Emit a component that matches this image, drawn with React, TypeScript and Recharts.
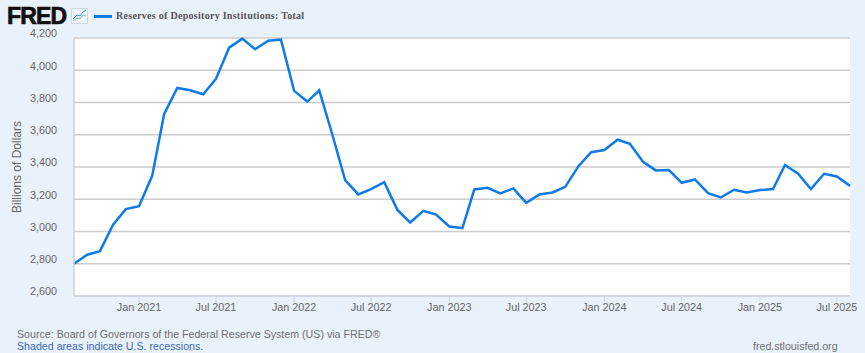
import React from 'react';
import { LineChart, Line, CartesianGrid, XAxis, YAxis, Label } from 'recharts';

const months = [
  '2020-08', '2020-09', '2020-10', '2020-11', '2020-12',
  '2021-01', '2021-02', '2021-03', '2021-04', '2021-05', '2021-06', '2021-07', '2021-08', '2021-09', '2021-10', '2021-11', '2021-12',
  '2022-01', '2022-02', '2022-03', '2022-04', '2022-05', '2022-06', '2022-07', '2022-08', '2022-09', '2022-10', '2022-11', '2022-12',
  '2023-01', '2023-02', '2023-03', '2023-04', '2023-05', '2023-06', '2023-07', '2023-08', '2023-09', '2023-10', '2023-11', '2023-12',
  '2024-01', '2024-02', '2024-03', '2024-04', '2024-05', '2024-06', '2024-07', '2024-08', '2024-09', '2024-10', '2024-11', '2024-12',
  '2025-01', '2025-02', '2025-03', '2025-04', '2025-05', '2025-06', '2025-07', '2025-08',
];

const reserves = [
  2800, 2856, 2878, 3042, 3139,
  3157, 3345, 3727, 3890, 3876, 3851, 3946, 4140, 4196, 4130, 4183, 4190,
  3872, 3806, 3876, 3600, 3319, 3230, 3263, 3306, 3134, 3056, 3128, 3105,
  3031, 3021, 3261, 3271, 3236, 3267, 3178, 3230, 3242, 3277, 3405, 3492,
  3505, 3569, 3544, 3432, 3379, 3381, 3302, 3323, 3238, 3211, 3259, 3242,
  3257, 3263, 3412, 3358, 3263, 3358, 3341, 3283,
];

const yTicks = [2600, 2800, 3000, 3200, 3400, 3600, 3800, 4000, 4200];
const xTickMonths = ['2021-01', '2021-07', '2022-01', '2022-07', '2023-01', '2023-07', '2024-01', '2024-07', '2025-01', '2025-07'];
const xTickLabels = ['Jan 2021', 'Jul 2021', 'Jan 2022', 'Jul 2022', 'Jan 2023', 'Jul 2023', 'Jan 2024', 'Jul 2024', 'Jan 2025', 'Jul 2025'];

const toTime = (m: string) => Date.parse(m + '-01T00:00:00Z');

const data = months.map((m, i) => ({ time: toTime(m), reserves: reserves[i] }));
const xTicks = xTickMonths.map(toTime);

const labelFor = (t: number) => xTickLabels[xTicks.indexOf(t)];

const sans = '"Liberation Sans", Arial, sans-serif';
const tickStyle = { fontFamily: sans, fontSize: 10.8, fill: '#666666' };

const App = () => {
  return (
    <div style={{ position: 'absolute', left: 0, top: 0, width: 865, height: 353, background: '#e9f1fa', overflow: 'hidden' }}>
      <LineChart width={865} height={353} data={data} margin={{ top: 38, right: 15, bottom: 27, left: 14 }}>
        <CartesianGrid vertical={false} stroke="#cccccc" strokeWidth={1.4} fill="#ffffff" />
        <XAxis
          dataKey="time"
          type="number"
          scale="time"
          domain={[data[0].time, data[data.length - 1].time]}
          ticks={xTicks}
          tickFormatter={labelFor}
          interval={0}
          height={30}
          stroke="#ccd6eb"
          tickSize={6}
          tick={tickStyle}
          tickMargin={1}
        />
        <YAxis
          type="number"
          domain={[2600, 4200]}
          ticks={yTicks}
          interval={0}
          width={60}
          stroke="#cccccc"
          strokeWidth={1.3}
          tickLine={false}
          tickMargin={11}
          tickFormatter={(v: number) => v.toLocaleString('en-US')}
          tick={{ ...tickStyle, dy: -4.5 }}
        >
          <Label value="Billions of Dollars" angle={-90} position="insideLeft" offset={3} style={{ fontFamily: sans, fontSize: 12, fill: '#666666', textAnchor: 'middle' }} />
        </YAxis>
        <Line type="linear" dataKey="reserves" stroke="#0f7be8" strokeWidth={2.5} dot={false} isAnimationActive={false} />
      </LineChart>

      <div style={{ position: 'absolute', left: 7, top: 3, fontFamily: sans, fontWeight: 700, fontSize: 23, lineHeight: '26px', color: '#111111', letterSpacing: -0.8, WebkitTextStroke: '0.7px #111111' }}>FRED</div>
      <svg style={{ position: 'absolute', left: 71, top: 8 }} width={17} height={16}>
        <rect x={0.5} y={0.5} width={16} height={15} fill="#eef3f8" stroke="#cfd8e0" />
        <polyline points="2,13 6,10 9,11 12,7 15,8" fill="none" stroke="#7fc4b8" />
        <polyline points="2,11 6,7 9,8 12,4 15,2" fill="none" stroke="#3d8fd9" />
      </svg>
      <div style={{ position: 'absolute', left: 94, top: 15, width: 18, height: 2.5, background: '#0f7be8' }} />
      <div style={{ position: 'absolute', left: 116, top: 9, fontFamily: '"Liberation Serif", serif', fontWeight: 700, fontSize: 10, lineHeight: '14px', color: '#555555', letterSpacing: 0.28 }}>Reserves of Depository Institutions: Total</div>

      <div style={{ position: 'absolute', left: 17, top: 328, fontFamily: sans, fontSize: 10.65, lineHeight: '13px', color: '#707070' }}>Source: Board of Governors of the Federal Reserve System (US) via FRED®</div>
      <div style={{ position: 'absolute', left: 17, top: 340, fontFamily: sans, fontSize: 10.65, lineHeight: '13px', color: '#3e6bb0' }}>Shaded areas indicate U.S. recessions.</div>
      <div style={{ position: 'absolute', left: 753, top: 340, fontFamily: sans, fontSize: 10.65, lineHeight: '13px', color: '#707070' }}>fred.stlouisfed.org</div>
    </div>
  );
};

export default App;
